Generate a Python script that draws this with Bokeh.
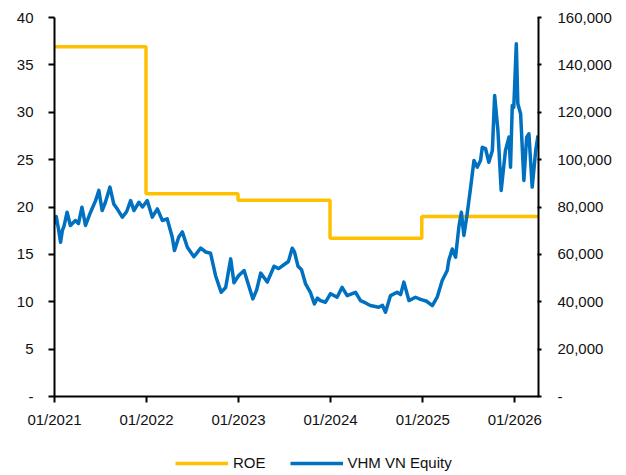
import pandas as pd
from bokeh.plotting import figure
from bokeh.layouts import column
from bokeh.models import (Range1d, LinearAxis, FixedTicker, NumeralTickFormatter,
                          DatetimeTickFormatter, Legend, LegendItem, ColumnDataSource)
from bokeh.embed import file_html
from bokeh.resources import INLINE

# ---------------- data ----------------
roe_dates = ["2021-01-01", "2021-12-30", "2022-12-30", "2023-12-30", "2024-12-28", "2026-04-05"]
roe_values = [36.9, 21.4, 20.7, 16.7, 19.0, 19.0]

price_dates = [
    "2021-01-04", "2021-01-08", "2021-01-18", "2021-01-25", "2021-02-01", "2021-02-08",
    "2021-02-20", "2021-03-05", "2021-03-25", "2021-04-06", "2021-04-20", "2021-05-04",
    "2021-05-24", "2021-06-13", "2021-06-26", "2021-07-09", "2021-07-22", "2021-08-09",
    "2021-08-24", "2021-09-08", "2021-09-27", "2021-10-14", "2021-10-30", "2021-11-12",
    "2021-12-02", "2021-12-16", "2022-01-04", "2022-01-24", "2022-02-13", "2022-03-05",
    "2022-03-24", "2022-04-13", "2022-04-22", "2022-05-09", "2022-05-23", "2022-06-12",
    "2022-07-08", "2022-08-04", "2022-08-24", "2022-09-12", "2022-10-02", "2022-10-24",
    "2022-11-11", "2022-12-01", "2022-12-14", "2023-01-01", "2023-01-23", "2023-02-10",
    "2023-02-27", "2023-03-14", "2023-03-30", "2023-04-25", "2023-05-22", "2023-06-09",
    "2023-06-30", "2023-07-18", "2023-08-02", "2023-08-11", "2023-08-25", "2023-09-08",
    "2023-09-24", "2023-10-13", "2023-10-29", "2023-11-10", "2023-11-22", "2023-12-12",
    "2024-01-01", "2024-01-27", "2024-02-16", "2024-03-07", "2024-04-09", "2024-04-29",
    "2024-05-19", "2024-06-07", "2024-07-10", "2024-07-25", "2024-08-06", "2024-08-26",
    "2024-09-21", "2024-10-05", "2024-10-18", "2024-11-07", "2024-12-03", "2024-12-23",
    "2025-01-16", "2025-02-08", "2025-02-27", "2025-03-19", "2025-04-08", "2025-04-14",
    "2025-04-28", "2025-05-11", "2025-05-24", "2025-06-03", "2025-06-13", "2025-06-26",
    "2025-07-10", "2025-07-23", "2025-08-05", "2025-08-18", "2025-08-25", "2025-09-07",
    "2025-09-20", "2025-10-04", "2025-10-13", "2025-10-26", "2025-11-08", "2025-11-25",
    "2025-12-09", "2025-12-15", "2025-12-22", "2025-12-28", "2026-01-07", "2026-01-13",
    "2026-01-24", "2026-02-06", "2026-02-17", "2026-02-26", "2026-03-11", "2026-03-25",
    "2026-04-03",
]
price_values = [
    72500, 76000, 70000, 65100, 70000, 72000,
    77800, 72200, 74300, 73000, 79900, 72200,
    77800, 82700, 87000, 78500, 82000, 88400,
    81300, 79000, 75700, 78000, 82700, 78500,
    82000, 80000, 82700, 75700, 79200, 74300,
    75000, 67300, 61600, 67300, 69500, 63000,
    59000, 62600, 61000, 60500, 51000, 44000,
    46000, 58100, 48000, 51000, 53200, 47000,
    41200, 45000, 52100, 48300, 55000, 54000,
    55600, 57000, 62600, 61000, 55000, 53500,
    47500, 44000, 39100, 41500, 40500, 39800,
    43400, 41900, 46100, 42600, 44000, 40500,
    39500, 38400, 37700, 38500, 35600, 42600,
    44000, 43000, 48300, 40500, 41900, 41000,
    40200, 38400, 41900, 49000, 53200, 57400,
    62300, 58800, 71500, 77800, 68000, 77100,
    88400, 99600, 96800, 99600, 105200, 104600,
    98900, 103900, 127100, 112300, 87000, 103900,
    109500, 96800, 122900, 122100, 148900, 123600,
    119400, 91200, 109500, 110900, 88400, 103900,
    110200,
]

year_ticks = ["2021-01-01", "2022-01-01", "2023-01-01", "2024-01-01", "2025-01-01", "2026-01-01"]
left_ticks = [0, 5, 10, 15, 20, 25, 30, 35, 40]
right_ticks = [0, 20000, 40000, 60000, 80000, 100000, 120000, 140000, 160000]
x_start, x_end = "2021-01-01", "2026-04-05"


def to_ms(dates):
    idx = pd.to_datetime(pd.Series(dates))
    return list(((idx - pd.Timestamp("1970-01-01")) // pd.Timedelta(milliseconds=1)).astype(float))


FONT = "Liberation Sans"
TXT = "#111111"
YELLOW = "#FFC000"
BLUE = "#0070C0"

# ---------------- main chart ----------------
p = figure(width=626, height=440, x_axis_type="datetime", output_backend="svg",
           toolbar_location=None,
           x_range=Range1d(to_ms([x_start])[0], to_ms([x_end])[0]),
           y_range=Range1d(0, 40),
           min_border_left=54, min_border_right=88, min_border_top=17, min_border_bottom=44)
p.outline_line_color = None
p.xgrid.visible = False
p.ygrid.visible = False
p.background_fill_color = "white"
p.border_fill_color = "white"

p.extra_y_ranges = {"price": Range1d(0, 160000)}

roe_src = ColumnDataSource(dict(x=to_ms(roe_dates), y=roe_values))
px_src = ColumnDataSource(dict(x=to_ms(price_dates), y=price_values))

p.step("x", "y", source=roe_src, mode="after", line_color=YELLOW, line_width=3.5)
p.line("x", "y", source=px_src, y_range_name="price", line_color=BLUE, line_width=3.5,
       line_join="round")


def style_axis(ax):
    ax.axis_line_color = "black"
    ax.axis_line_width = 2
    ax.major_tick_line_color = "black"
    ax.major_tick_line_width = 2
    ax.minor_tick_line_color = None
    ax.major_label_text_font = FONT
    ax.major_label_text_font_size = "15px"
    ax.major_label_text_color = TXT


xa = p.xaxis[0]
style_axis(xa)
xa.ticker = FixedTicker(ticks=to_ms(year_ticks))
fmt = "%m/%Y"
xa.formatter = DatetimeTickFormatter(years=fmt, months=fmt, days=fmt, hours=fmt,
                                     minutes=fmt, seconds=fmt, milliseconds=fmt,
                                     microseconds=fmt, hourmin=fmt, minsec=fmt)
xa.major_tick_out = 6
xa.major_tick_in = 0
xa.major_label_standoff = 8

ya = p.yaxis[0]
style_axis(ya)
ya.ticker = FixedTicker(ticks=left_ticks)
ya.major_label_overrides = {0: "-"}
ya.major_tick_out = 6
ya.major_tick_in = 0
ya.major_label_standoff = 15

ra = LinearAxis(y_range_name="price")
style_axis(ra)
ra.ticker = FixedTicker(ticks=right_ticks)
ra.formatter = NumeralTickFormatter(format="0,0")
ra.major_label_overrides = {0: "-"}
ra.major_tick_out = 3
ra.major_tick_in = 1
ra.major_label_standoff = 16
p.add_layout(ra, "right")

# ---------------- legend strip ----------------
lg = figure(width=626, height=35, output_backend="svg", toolbar_location=None,
            x_range=Range1d(0, 1), y_range=Range1d(0, 1),
            min_border_left=0, min_border_right=0, min_border_top=0, min_border_bottom=0)
lg.axis.visible = False
lg.xgrid.visible = False
lg.ygrid.visible = False
lg.outline_line_color = None
lg.background_fill_color = "white"
lg.border_fill_color = "white"
k_roe = lg.line([5, 6], [5, 6], line_color=YELLOW, line_width=3.5)
k_px = lg.line([5, 6], [5, 6], line_color=BLUE, line_width=3.5)

legend = Legend(items=[LegendItem(label="ROE", renderers=[k_roe]),
                       LegendItem(label="VHM VN Equity", renderers=[k_px])],
                orientation="horizontal", location=(121, 4))
legend.label_text_font = FONT
legend.label_text_font_size = "15px"
legend.label_text_color = TXT
legend.glyph_width = 53
legend.glyph_height = 14
legend.label_standoff = 5
legend.spacing = 24
legend.border_line_color = None
legend.background_fill_alpha = 0
legend.padding = 4
legend.margin = 0
lg.add_layout(legend, "center")

layout = column(p, lg, spacing=0)
open("out.html", "w").write(file_html(layout, INLINE))
